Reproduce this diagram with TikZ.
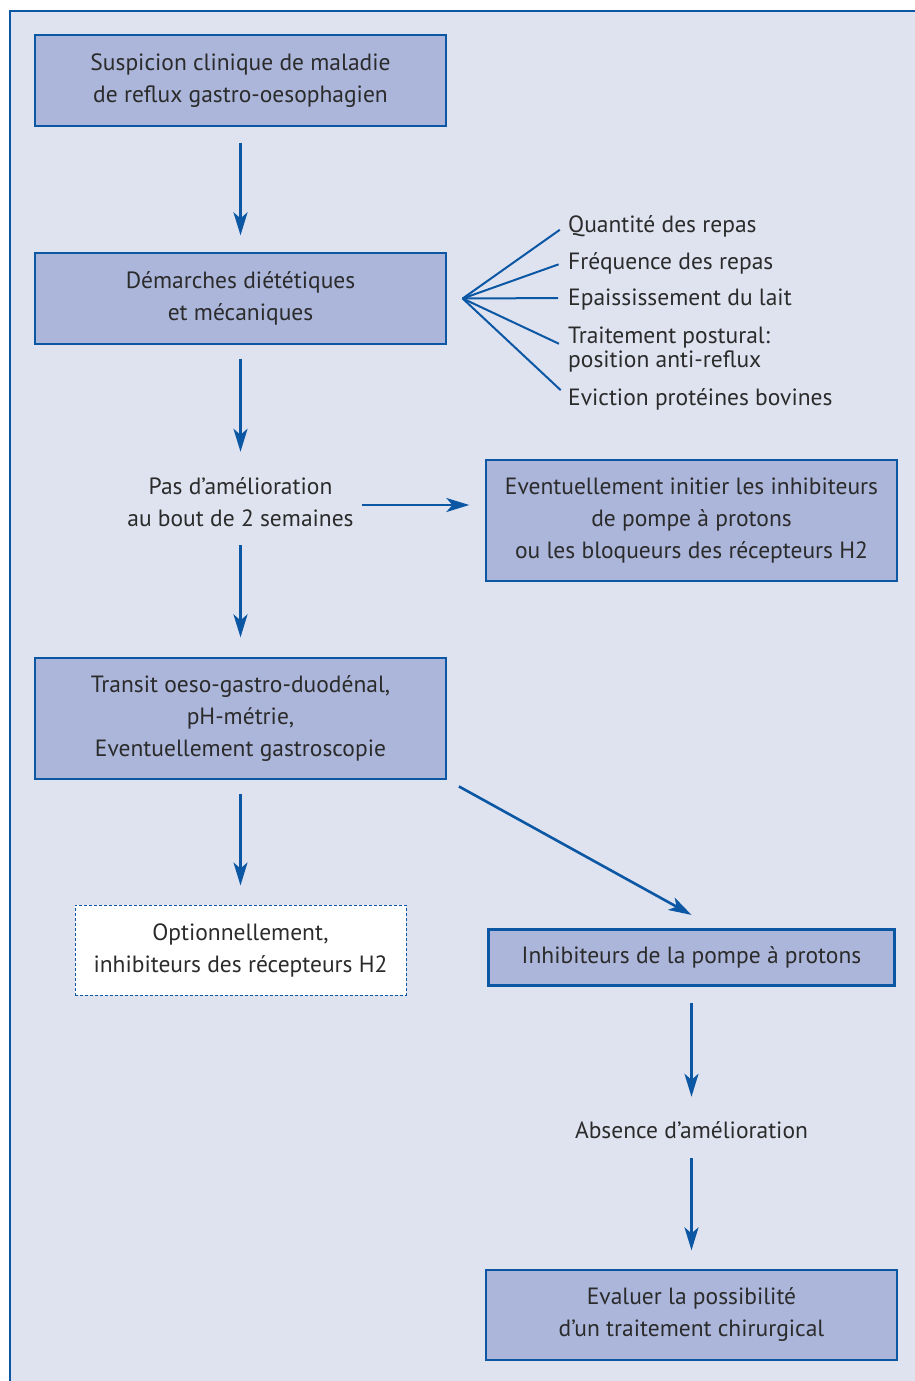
\documentclass[tikz,border=0pt]{standalone}
\usepackage{fontspec}
\setmainfont{PT Sans}
\usetikzlibrary{arrows.meta}
\definecolor{pageblue}{HTML}{DFE3F0}
\definecolor{boxblue}{HTML}{ABB6DA}
\definecolor{lineblue}{HTML}{0B57A4}
\definecolor{inkgray}{HTML}{2B2B2B}
\tikzset{
  box/.style={draw=lineblue, line width=1.3pt, fill=boxblue, text=inkgray,
    minimum width=411pt, align=center, inner sep=0pt},
  note/.style={text=inkgray, align=center, inner sep=0pt},
  flow/.style={draw=lineblue, line width=2.6pt,
    -{Stealth[length=23pt,width=14pt,inset=6pt]}},
  fanline/.style={draw=lineblue, line width=2pt},
}
\begin{document}
\begin{tikzpicture}[x=1pt,y=-1pt,font=\fontsize{23.5}{32}\selectfont]
  \useasboundingbox (0,0) rectangle (915,1381);
  \fill [white] (0,0) rectangle (915,1381);
  \fill [pageblue] (10,11) rectangle (915,1381);
  \draw [lineblue, line width=2pt] (10,1381) -- (10,11) -- (915,11);

  % left column
  \node [box, minimum height=91pt] (suspicion) at (240.5,80.5)
    {Suspicion clinique de maladie\\de reflux gastro-oesophagien};
  \node [box, minimum height=91pt] (demarches) at (240.5,298.5)
    {Démarches diététiques\\et mécaniques};
  \node [note, minimum width=243pt, minimum height=66pt] (pasamelio) at (240.5,502)
    {Pas d’amélioration\\au bout de 2 semaines};
  \node [box, minimum height=121pt] (transit) at (240.5,718.5)
    {Transit oeso-gastro-duodénal,\\pH-métrie,\\Eventuellement gastroscopie};
  \node [box, fill=white, line width=1pt, dash pattern=on 3pt off 2pt,
    minimum width=331pt, minimum height=90pt] (optionnel) at (240.5,950)
    {Optionnellement,\\inhibiteurs des récepteurs H2};

  % right column
  \node [box, minimum height=121pt] (initier) at (691.5,520.5)
    {Eventuellement initier les inhibiteurs\\de pompe à protons\\ou les bloqueurs des récepteurs H2};
  \node [box, line width=3.2pt, minimum width=406pt, minimum height=56pt] (ipp) at (691.5,957.5)
    {Inhibiteurs de la pompe à protons};
  \node [note, minimum height=36pt] (absence) at (691.5,1130)
    {Absence d’amélioration};
  \node [box, minimum height=90pt] (chirurgie) at (691.5,1315)
    {Evaluer la possibilité\\d’un traitement chirurgical};

  % mesures
  \coordinate (fan) at ([xshift=16pt]demarches.east);
  \foreach \y/\t [count=\i] in {226/Quantité des repas, 263/Fréquence des repas,
      300/Epaississement du lait, 350/{Traitement postural:\\position anti-reflux},
      399/Eviction protéines bovines}
  {
    \node [note, anchor=west, align=left, font=\fontsize{23.5}{24}\selectfont] (mesure\i) at (568,\y) {\t};
    \draw [fanline, shorten >=10pt] (fan) -- ([yshift=2pt]mesure\i.west);
  }

  \draw [flow, shorten <=16pt, shorten >=17pt] (suspicion) -- (demarches);
  \draw [flow, shorten <=14pt, shorten >=17pt] (demarches) -- (pasamelio);
  \draw [flow, shorten <=10pt, shorten >=20pt] (pasamelio) -- (transit);
  \draw [flow, shorten >=16pt] ([yshift=-3pt]pasamelio.east) -- ([yshift=-3pt]pasamelio.east -| initier.west);
  \draw [flow, shorten <=14pt, shorten >=19pt] (transit) -- (optionnel);
  \draw [flow, shorten <=14pt] (transit.south east) -- ([yshift=13pt]ipp.north);
  \draw [flow, shorten <=16pt, shorten >=15pt] (ipp) -- (absence);
  \draw [flow, shorten <=10pt, shorten >=19pt] (absence) -- (chirurgie);
\end{tikzpicture}
\end{document}
